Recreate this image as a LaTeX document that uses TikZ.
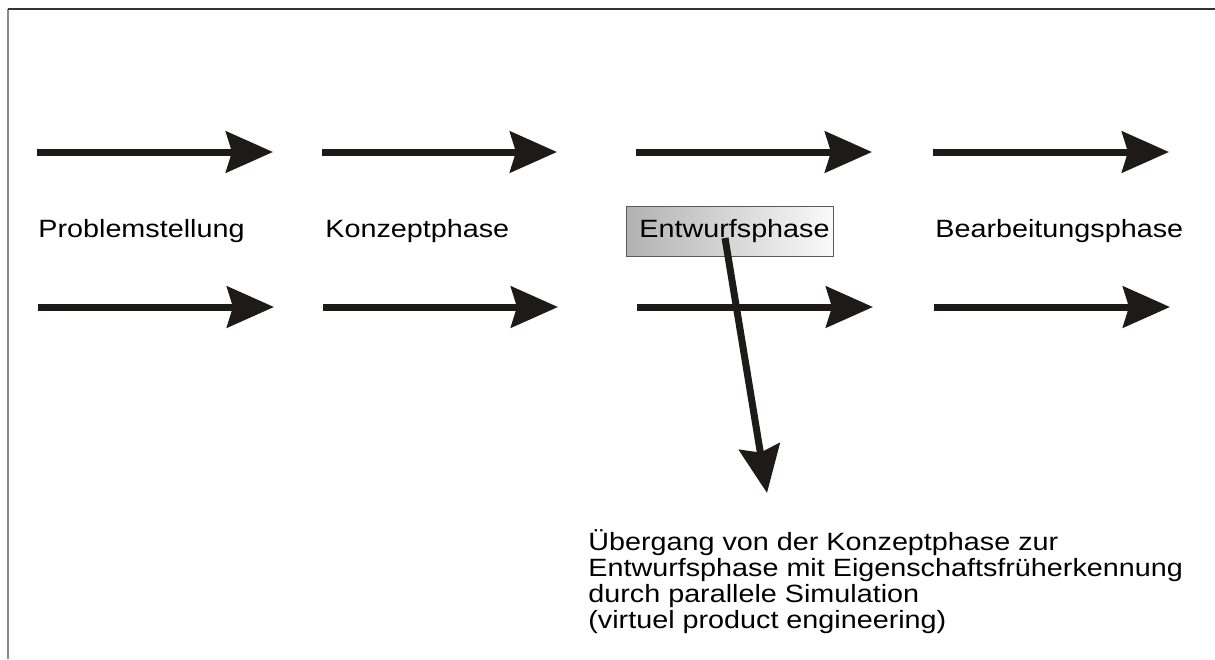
\documentclass[tikz,border=0pt]{standalone}
\usepackage{fontspec}
\newfontfamily\phasefont[FakeStretch=1.15]{Liberation Sans}
\usetikzlibrary{arrows.meta,positioning}
\definecolor{ink}{HTML}{1E1A1A}
\definecolor{bk80}{HTML}{333333}
\definecolor{bk60}{HTML}{5A5A5A}
\definecolor{bk45}{HTML}{8A8A8A}
\definecolor{bk30}{HTML}{B2B2B2}
\definecolor{bk02}{HTML}{FAFAFA}
\tikzset{
  phasearrow/.style={
    -{Stealth[length=23.5pt, width=20.5pt, inset=3pt]},
    line width=3.5pt, color=ink
  },
  phaselabel/.style={
    anchor=base west, inner sep=0pt,
    font=\fontsize{12.5}{13}\selectfont\phasefont
  },
  phasebox/.style={
    rectangle, draw=bk60, line width=0.5pt,
    left color=bk30, right color=bk02,
    minimum width=103.5pt, minimum height=25pt, inner sep=0pt,
    font=\fontsize{12.5}{13}\selectfont\phasefont
  },
}

\begin{document}
\begin{tikzpicture}[x=0.5pt, y=-0.5pt]
\useasboundingbox (0,0) rectangle (1215,659);
% frame
\draw[bk45, line width=1pt] (8,659) -- (8,9);
\draw[bk80, line width=0.75pt] (8,9) -- (1215,9);

% upper and lower row of arrows
\foreach \n/\xa/\xb in {1/37/273, 2/322/557, 3/636/872, 4/933/1169} {
  \coordinate (u\n s) at (\xa,152);
  \coordinate (u\n e) at (\xb,152);
  \draw[phasearrow] (u\n s) -- (u\n e);
}
\foreach \n/\xa/\xb in {1/38/274, 2/323/558, 3/637/873, 4/934/1170} {
  \coordinate (l\n s) at (\xa,307);
  \coordinate (l\n e) at (\xb,307);
  \draw[phasearrow] (l\n s) -- (l\n e);
}

% phases
\node[phaselabel] (prob) at (38,237) {Problemstellung};
\node[phaselabel] (konz) at (325,237) {Konzeptphase};
\node[phasebox] (entw) at (729.5,231) {\hspace*{5pt}Entwurfsphase};
\node[phaselabel] (bearb) at (935,237) {Bearbeitungsphase};

% transition
\coordinate (ds) at (725,238);
\coordinate (de) at (767,493);
\draw[phasearrow] (ds) -- (de);
\node[phaselabel, align=left] (note) at (588,628)
  {Übergang von der Konzeptphase zur\\
   Entwurfsphase mit Eigenschaftsfrüherkennung\\
   durch parallele Simulation\\
   (virtuel product engineering)};
\end{tikzpicture}
\end{document}
